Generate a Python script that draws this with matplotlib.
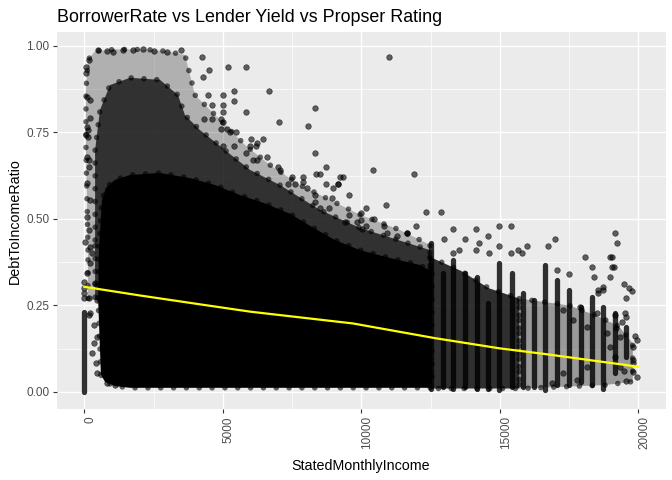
import matplotlib
matplotlib.use("Agg")
import matplotlib.pyplot as plt

plt.rcParams['font.family'] = ['Liberation Sans', 'DejaVu Sans']

# dense cloud outlines (StatedMonthlyIncome, DebtToIncomeRatio)
outer_inc = [134, 61, 61, 134, 390, 1108, 2190, 2913, 3635, 3816, 3997, 4538, 5079, 5801,
             6704, 7787, 8870, 9953, 11397, 12480, 12480, 134]
outer_dti = [0.410, 0.699, 0.873, 0.960, 0.985, 0.99, 0.99, 0.985, 0.974, 0.916, 0.858, 0.815,
             0.772, 0.714, 0.656, 0.598, 0.555, 0.512, 0.468, 0.425, 0.266, 0.266]

inner_inc = [390, 390, 567, 928, 1650, 2733, 3383, 3635, 4177, 5079, 5982, 7065, 8509, 9953,
             12480, 12480, 390]
inner_dti = [0.439, 0.699, 0.815, 0.887, 0.908, 0.902, 0.858, 0.800, 0.757, 0.699, 0.642, 0.598,
             0.526, 0.474, 0.410, 0.266, 0.266]

core_inc = [600, 500, 530, 640, 780, 1110, 1650, 2730, 3820, 4720, 5620, 6520, 7430, 8150,
            9050, 9950, 11040, 12120, 12550, 12550, 1650, 1110, 750]
core_dti = [0.050, 0.266, 0.410, 0.555, 0.590, 0.613, 0.627, 0.633, 0.618, 0.598, 0.569, 0.545,
            0.515, 0.480, 0.439, 0.410, 0.387, 0.367, 0.347, 0.012, 0.012, 0.017, 0.029]

rdense_inc = [12480, 13600, 14600, 15700, 15700, 12480]
rdense_dti = [0.39, 0.35, 0.30, 0.27, 0.01, 0.01]

rlight_inc = [15700, 16600, 17500, 18500, 19300, 19800, 19800, 18800, 15700]
rlight_dti = [0.27, 0.26, 0.25, 0.22, 0.19, 0.14, 0.03, 0.02, 0.01]

# vertical stacks of points at round incomes
col_inc = [0, 12505, 12960, 13321, 13744, 14165, 14584, 14982, 15430, 15830, 16245, 16642,
           17075, 17508, 17920, 18339, 18736, 19169, 19566]
col_lo = [0.0, 0.01, 0.015, 0.01, 0.015, 0.01, 0.01, 0.005, 0.015, 0.015, 0.015, 0.005,
          0.02, 0.02, 0.03, 0.02, 0.01, 0.054, 0.10]
col_hi = [0.232, 0.43, 0.343, 0.381, 0.343, 0.333, 0.256, 0.372, 0.343, 0.285, 0.266, 0.367,
          0.324, 0.295, 0.247, 0.275, 0.247, 0.227, 0.189]

# single points
top_inc = [498, 823, 1036, 1397, 1758, 2119, 2516, 2985, 3491, 170, 61, 206, 134, 61, 170,
           4249, 4296, 4513, 5177, 5837, 61, 108, 206, 87, 144, 108, 181, 108, 206, 87, 181]
top_dti = [0.988, 0.985, 0.983, 0.988, 0.988, 0.991, 0.985, 0.983, 0.988, 0.960, 0.922, 0.792,
           0.757, 0.743, 0.671, 0.969, 0.910, 0.930, 0.940, 0.940, 0.940, 0.853, 0.844, 0.767,
           0.738, 0.680, 0.651, 0.603, 0.555, 0.507, 0.468]

mid_inc = [6680, 5415, 5018, 4477, 5415, 4600, 5018, 5850, 5018, 8340, 7040, 8087, 4600, 4321,
           4924, 5018, 5141, 5476, 5260, 4924, 6029, 6462, 6245, 5982, 6198, 5018, 5415, 8340,
           6606, 5850, 6101, 6245, 8736, 10433, 11913, 7003, 7076, 8375, 8520, 7509, 7906, 9242,
           9350, 8736, 9169, 8989, 7370, 7906, 8051, 8340, 9567, 11011, 10892, 10170, 9148, 9989,
           9989, 10447, 10830, 10917, 11299, 11639, 9400, 11975, 8329, 8520, 8845, 8931, 9567,
           10180, 11650, 10014, 9834, 7617]
mid_dti = [0.869, 0.869, 0.858, 0.858, 0.840, 0.829, 0.829, 0.808, 0.808, 0.820, 0.779, 0.768,
           0.788, 0.788, 0.788, 0.779, 0.759, 0.751, 0.751, 0.759, 0.731, 0.731, 0.720, 0.711,
           0.711, 0.711, 0.711, 0.690, 0.678, 0.690, 0.670, 0.670, 0.649, 0.641, 0.629, 0.649,
           0.641, 0.629, 0.629, 0.621, 0.621, 0.621, 0.621, 0.600, 0.600, 0.589, 0.600, 0.608,
           0.589, 0.568, 0.568, 0.967, 0.540, 0.531, 0.601, 0.516, 0.497, 0.499, 0.479, 0.459,
           0.450, 0.459, 0.492, 0.479, 0.548, 0.531, 0.531, 0.560, 0.512, 0.479, 0.459, 0.470,
           0.490, 0.600]

right_inc = [12346, 12888, 14982, 15415, 13321, 14151, 19169, 14584, 17003, 12996, 13754, 19241,
             14259, 14982, 15993, 16751, 15668, 15813, 14620, 14151, 13537, 13321, 18087, 18989,
             19062, 15415, 18339, 19062, 19133, 18411, 18989, 19494, 19675, 19783, 19566, 18736,
             18556, 17075, 17508, 19891, 19963, 19566, 19819, 19819, 19819, 19494, 19530, 19566,
             19422, 19169, 19205, 18714, 18534, 16873, 17292, 18135, 17775, 19338, 19158, 18978,
             19819, 19338, 18858, 18135, 17653, 17292, 17894, 18497, 19941]
right_dti = [0.519, 0.519, 0.479, 0.479, 0.470, 0.470, 0.459, 0.450, 0.441, 0.441, 0.441, 0.430,
             0.430, 0.421, 0.421, 0.421, 0.410, 0.401, 0.401, 0.410, 0.410, 0.401, 0.389, 0.389,
             0.389, 0.401, 0.360, 0.360, 0.360, 0.331, 0.331, 0.311, 0.300, 0.291, 0.271, 0.303,
             0.294, 0.352, 0.340, 0.161, 0.042, 0.031, 0.092, 0.083, 0.059, 0.060, 0.227, 0.216,
             0.201, 0.222, 0.184, 0.295, 0.285, 0.025, 0.054, 0.073, 0.035, 0.073, 0.102, 0.131,
             0.131, 0.160, 0.170, 0.189, 0.208, 0.237, 0.247, 0.227, 0.150]

left_inc = [159, 180, 339, 97, 217, 278, 217, 36, 458, 397, 278, 433, 458, 819, 1119, 458, 361,
            217, 0, 0, 0, 0]
left_dti = [0.271, 0.223, 0.194, 0.343, 0.372, 0.401, 0.420, 0.434, 0.266, 0.314, 0.112, 0.083,
            0.054, 0.025, 0.020, 0.160, 0.141, 0.227, 0.319, 0.300, 0.285, 0.271]

# fitted smooth
fit_inc = [0, 2000, 4200, 6000, 9700, 12700, 13100, 15000, 16600, 20000]
fit_dti = [0.304, 0.279, 0.253, 0.232, 0.198, 0.155, 0.150, 0.126, 0.110, 0.073]

xticks = [0, 5000, 10000, 15000, 20000]
yticks = [0.00, 0.25, 0.50, 0.75, 1.00]

fig = plt.figure(figsize=(6.72, 4.8), dpi=100)
ax = fig.add_axes([56.6 / 672, 1 - 409.1 / 480, 609.4 / 672, 376.8 / 480])
ax.set_facecolor('#EBEBEB')
for s in ax.spines.values():
    s.set_visible(False)

ax.set_xlim(-1000, 21000)
ax.set_ylim(-0.0495, 1.0395)
ax.set_xticks(xticks)
ax.set_xticklabels([str(t) for t in xticks], rotation=90, ha='left')
ax.set_yticks(yticks)
ax.set_yticklabels(['%.2f' % t for t in yticks])
ax.set_xticks([2500, 7500, 12500, 17500], minor=True)
ax.set_yticks([0.125, 0.375, 0.625, 0.875], minor=True)
ax.grid(which='major', color='white', linewidth=1.0)
ax.grid(which='minor', color='white', linewidth=0.5)
ax.set_axisbelow(True)
ax.tick_params(which='major', length=2.7, width=0.8, color='#333333',
               labelsize=8.5, labelcolor='#4D4D4D', pad=2.5)
ax.tick_params(which='minor', length=0)

# dotted stroke along each outline so the edges read as points, not a hard line
dots = dict(color='black', alpha=0.6, linewidth=4.0, linestyle=(0, (0.01, 2.3)),
            dash_capstyle='round')


def cloud(xs, ys, a):
    ax.fill(xs, ys, color='black', alpha=a, lw=0)
    ax.plot(list(xs) + [xs[0]], list(ys) + [ys[0]], **dots)


cloud(outer_inc, outer_dti, 0.25)
cloud(inner_inc, inner_dti, 0.72)
cloud(rlight_inc, rlight_dti, 0.35)
cloud(rdense_inc, rdense_dti, 0.8)
cloud(core_inc, core_dti, 1.0)
ax.vlines(col_inc, col_lo, col_hi, color='black', alpha=0.8, linewidth=3.8, capstyle='round')

pt = dict(s=16, c='black', alpha=0.6, edgecolors='black', linewidths=0.5)
ax.scatter(top_inc, top_dti, **pt)
ax.scatter(mid_inc, mid_dti, **pt)
ax.scatter(right_inc, right_dti, **pt)
ax.scatter(left_inc, left_dti, **pt)

ax.plot(fit_inc, fit_dti, color='#FFFF00', linewidth=1.6)

fig.text(57 / 672, 1 - 21.7 / 480, 'BorrowerRate vs Lender Yield vs Propser Rating',
         fontsize=12.9, ha='left', va='baseline')
fig.text(361 / 672, 1 - 470 / 480, 'StatedMonthlyIncome', fontsize=10.3,
         ha='center', va='baseline')
fig.text(15 / 672, 1 - 221 / 480, 'DebtToIncomeRatio', fontsize=10.3, rotation=90,
         ha='center', va='center')

fig.savefig('out.png', dpi=100)
